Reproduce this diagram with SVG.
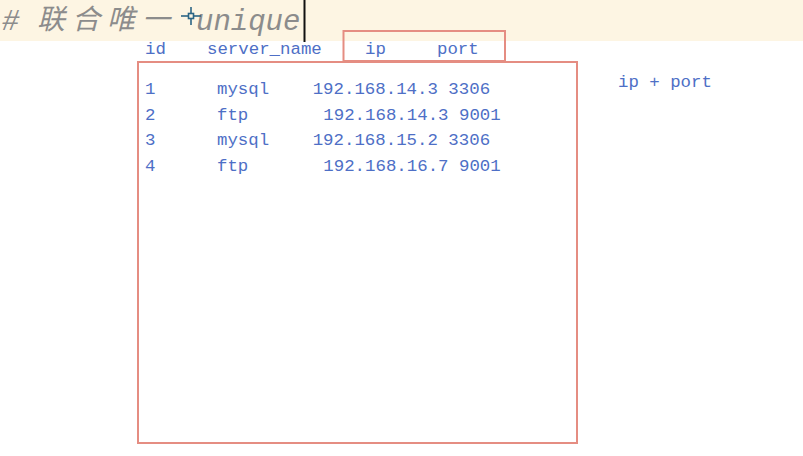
<svg xmlns="http://www.w3.org/2000/svg" width="803" height="456" viewBox="0 0 803 456">
<style>
.t{font-family:"Liberation Mono","DejaVu Sans Mono",monospace;font-size:17.4px;fill:#4e6fc6}
.ttl{font-family:"Liberation Mono","Noto Sans CJK SC",monospace;font-size:29px;font-style:italic;fill:#8c8c8c}
.cjk{font-family:"Noto Sans CJK SC",sans-serif;font-size:28px;font-style:italic;fill:#8c8c8c}
.box{fill:none;stroke:#e58d82;stroke-width:2}
</style>
<rect x="0" y="0" width="803" height="456" fill="#ffffff"/>
<g id="title-band">
<rect x="0" y="0" width="803" height="41" fill="#fdf5e3"/>
<text class="ttl" x="2" y="30">#</text>
<text class="cjk" x="37 72 107 142" y="29">联合唯一</text>
<text class="ttl" x="196" y="30">unique</text>
<g id="crosshair" stroke="#2b6585" stroke-width="1.6" fill="none">
<line x1="181" y1="16" x2="201" y2="16"/>
<line x1="191" y1="7" x2="191" y2="25"/>
<rect x="188.5" y="13.5" width="5" height="5" fill="#fdf5e3"/>
</g>
<line x1="304.5" y1="0" x2="304.5" y2="42" stroke="#111" stroke-width="2"/>
</g>
<g id="header">
<text class="t" x="145" y="54">id</text>
<text class="t" x="207" y="54">server_name</text>
</g>
<g id="unique-key-box">
<rect class="box" x="343.5" y="31" width="161.5" height="30"/>
<text class="t" x="365" y="54">ip</text>
<text class="t" x="437" y="54">port</text>
</g>
<g id="table-box">
<rect class="box" x="138" y="62" width="439" height="381"/>
<text class="t" x="145" y="94">1</text>
<text class="t" x="217" y="94">mysql</text>
<text class="t" x="312.7" y="94">192.168.14.3 3306</text>
<text class="t" x="145" y="120">2</text>
<text class="t" x="217" y="120">ftp</text>
<text class="t" x="323.3" y="120">192.168.14.3 9001</text>
<text class="t" x="145" y="145">3</text>
<text class="t" x="217" y="145">mysql</text>
<text class="t" x="312.7" y="145">192.168.15.2 3306</text>
<text class="t" x="145" y="170.5">4</text>
<text class="t" x="217" y="170.5">ftp</text>
<text class="t" x="323.3" y="170.5">192.168.16.7 9001</text>
</g>
<g id="note">
<text class="t" x="618" y="87">ip + port</text>
</g>
</svg>
